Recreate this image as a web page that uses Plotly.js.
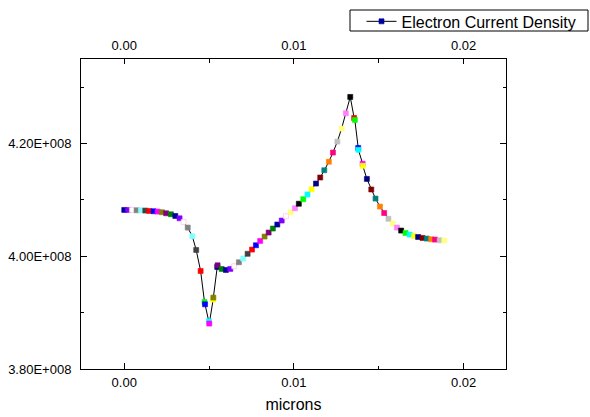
<!DOCTYPE html>
<html>
<head>
<meta charset="utf-8">
<script src="https://cdn.plot.ly/plotly-3.0.1.min.js"></script>
<style>
  html, body { margin: 0; padding: 0; background: #fff; }
  #chart { width: 590px; height: 417px; }
</style>
</head>
<body>
<div id="chart"></div>
<script>
// ---- data ----
const seriesName = 'Electron Current Density';
const xMicrons = [
  0.00000, 0.00022, 0.00045, 0.00073, 0.00098, 0.00124, 0.00147, 0.00173, 0.00197, 0.00222,
  0.00247, 0.00275, 0.00301, 0.00326, 0.00350, 0.00374, 0.00401, 0.00424, 0.00450,
  0.00473, 0.00476, 0.00499, 0.00501, 0.00524, 0.00525, 0.00548, 0.00550,
  0.00574, 0.00599, 0.00625, 0.00648, 0.00676, 0.00701, 0.00727, 0.00753, 0.00776, 0.00801,
  0.00827, 0.00851, 0.00876, 0.00902, 0.00928, 0.00953, 0.00981, 0.01006, 0.01029, 0.01055,
  0.01080, 0.01104, 0.01130, 0.01155, 0.01179, 0.01206, 0.01230, 0.01256, 0.01281, 0.01306,
  0.01332, 0.01355, 0.01359, 0.01379, 0.01380, 0.01405, 0.01406,
  0.01430, 0.01456, 0.01481, 0.01507, 0.01532, 0.01557, 0.01582, 0.01607, 0.01632, 0.01658,
  0.01682, 0.01707, 0.01732, 0.01758, 0.01783, 0.01809, 0.01832, 0.01859, 0.01886
];
const currentDensity = [
  4.0822e8, 4.0822e8, 4.0822e8, 4.0816e8, 4.0816e8, 4.0811e8, 4.0804e8, 4.0799e8, 4.0793e8, 4.0781e8,
  4.0763e8, 4.0745e8, 4.0715e8, 4.0674e8, 4.0609e8, 4.0509e8, 4.0355e8, 4.0112e8, 3.9739e8,
  3.9189e8, 3.9148e8, 3.8847e8, 3.8806e8, 3.9232e8, 3.9267e8, 3.9810e8, 3.9840e8,
  3.9775e8, 3.9757e8, 3.9775e8, 3.9823e8, 3.9894e8, 3.9959e8, 4.0044e8, 4.0119e8, 4.0195e8, 4.0272e8,
  4.0350e8, 4.0421e8, 4.0492e8, 4.0563e8, 4.0634e8, 4.0710e8, 4.0781e8, 4.0852e8, 4.0932e8, 4.1012e8,
  4.1097e8, 4.1189e8, 4.1290e8, 4.1397e8, 4.1526e8, 4.1677e8, 4.1840e8, 4.2035e8, 4.2266e8, 4.2538e8,
  4.2827e8, 4.2454e8, 4.2419e8, 4.1922e8, 4.1890e8, 4.1642e8, 4.1606e8,
  4.1372e8, 4.1185e8, 4.1024e8, 4.0882e8, 4.0767e8, 4.0665e8, 4.0580e8, 4.0509e8, 4.0456e8, 4.0413e8,
  4.0385e8, 4.0360e8, 4.0342e8, 4.0325e8, 4.0314e8, 4.0302e8, 4.0296e8, 4.0284e8, 4.0279e8
];
const xTickVals = [0, 0.01, 0.02];
const xTickText = ['0.00', '0.01', '0.02'];
const yTickVals = [3.8e8, 4.0e8, 4.2e8];
const yTickText = ['3.80E+008', '4.00E+008', '4.20E+008'];

// ---- styles ----
const C = {
  black:'#000000', red:'#FF0000', green:'#00FF00', blue:'#0000FF', cyan:'#00FFFF',
  magenta:'#FF00FF', yellow:'#FFFF00', dkyellow:'#808000', navy:'#000080', purple:'#800080',
  wine:'#800000', olive:'#008000', dkcyan:'#008080', royal:'#0000A0', orange:'#FF8000',
  violet:'#8000FF', pink:'#FF0080', white:'#FFFFFF', ltgray:'#C0C0C0', gray:'#808080',
  ltyellow:'#FFFF80', ltcyan:'#80FFFF', ltmagenta:'#FF80FF', dkgray:'#404040'
};
const pointColorNames = [
  'royal','violet','white','gray','ltcyan','dkgray','red','blue','magenta','dkyellow',
  'purple','olive','royal','violet','white','gray','ltcyan','dkgray','red',
  'green','blue','cyan','magenta','yellow','dkyellow','navy','purple',
  'olive','royal','violet','white','gray','ltcyan','dkgray','red','blue','magenta',
  'dkyellow','purple','olive','royal','violet','white','ltyellow','ltmagenta','black','green',
  'cyan','yellow','navy','wine','dkcyan','orange','pink','ltgray','ltyellow','ltmagenta',
  'black','red','green','blue','cyan','magenta','yellow',
  'navy','wine','dkcyan','orange','pink','ltgray','ltyellow','ltmagenta','black','green',
  'cyan','yellow','navy','wine','dkcyan','orange','pink','ltgray','ltyellow'
];
const fillColors = pointColorNames.map(n => C[n]);
const edgeColors = pointColorNames.map(n => n === 'white' ? '#FFB8DC' : C[n]);

const FONT = 'Liberation Sans, Arial, sans-serif';

const trace = {
  type: 'scatter',
  mode: 'lines+markers',
  name: seriesName,
  x: xMicrons,
  y: currentDensity,
  xaxis: 'x', yaxis: 'y',
  line: { color: '#000000', width: 1 },
  marker: { symbol: 'square', size: 5, color: fillColors,
            line: { color: edgeColors, width: 0.6 } },
  showlegend: true
};
// same data bound to the top axis (invisible) so that the top axis is drawn
const topAxisTrace = {
  type: 'scatter', mode: 'lines', x: xMicrons, y: currentDensity,
  xaxis: 'x2', yaxis: 'y', opacity: 0, line: { width: 0.1, color: '#fff' },
  showlegend: false, hoverinfo: 'skip'
};

const xRange = [-0.00255, 0.0225];
const layout = {
  width: 590, height: 417,
  margin: { l: 81, r: 84, t: 59, b: 48, pad: 0, autoexpand: false },
  paper_bgcolor: '#ffffff', plot_bgcolor: '#ffffff',
  font: { family: FONT, size: 13, color: '#000000' },
  showlegend: true,
  legend: {
    x: 0.66, y: 1.176, xanchor: 'left', yanchor: 'top',
    borderwidth: 0, bgcolor: 'rgba(0,0,0,0)',
    font: { family: FONT, size: 16, color: '#000000' },
    tracegroupgap: 0
  },
  shapes: [{
    type: 'rect', xref: 'paper', yref: 'paper',
    x0: (350 - 81) / 425, x1: (588 - 81) / 425,
    y0: (369 - 31) / 310, y1: (369 - 10) / 310,
    line: { color: '#000000', width: 1 }, fillcolor: 'rgba(0,0,0,0)', layer: 'below'
  }],
  xaxis: {
    range: xRange, tickmode: 'array', tickvals: xTickVals, ticktext: xTickText,
    ticks: 'inside', ticklen: 6, tickwidth: 1, tickcolor: '#000',
    minor: { tickmode: 'array', tickvals: [0.005, 0.015], ticks: 'inside', ticklen: 3, tickcolor: '#000' },
    showline: true, linecolor: '#000', linewidth: 1, mirror: false,
    showgrid: false, zeroline: false, automargin: false, ticklabelstandoff: 1,
    tickfont: { family: FONT, size: 13 },
    title: { text: 'microns', font: { family: FONT, size: 16 }, standoff: 10 }
  },
  xaxis2: {
    overlaying: 'x', side: 'top', anchor: 'y',
    range: xRange, tickmode: 'array', tickvals: xTickVals, ticktext: xTickText,
    ticks: 'inside', ticklen: 5, tickwidth: 1, tickcolor: '#000',
    minor: { tickmode: 'array', tickvals: [0.005, 0.015], ticks: 'inside', ticklen: 4, tickcolor: '#000' },
    showline: true, linecolor: '#000', linewidth: 1,
    showgrid: false, zeroline: false, automargin: false, ticklabelstandoff: 3,
    tickfont: { family: FONT, size: 13 }
  },
  yaxis: {
    range: [3.8e8, 4.35e8], tickmode: 'array', tickvals: yTickVals, ticktext: yTickText,
    ticks: 'inside', ticklen: 6, tickwidth: 1, tickcolor: '#000',
    minor: { dtick: 0.1e8, tick0: 3.8e8, ticks: 'inside', ticklen: 3, tickcolor: '#000' },
    showline: true, linecolor: '#000', linewidth: 1, mirror: 'ticks',
    showgrid: false, zeroline: false, ticklabelstandoff: 6, automargin: false,
    tickfont: { family: FONT, size: 13 }
  }
};

Plotly.newPlot('chart', [topAxisTrace, trace], layout, { staticPlot: true, displayModeBar: false });
</script>
</body>
</html>
